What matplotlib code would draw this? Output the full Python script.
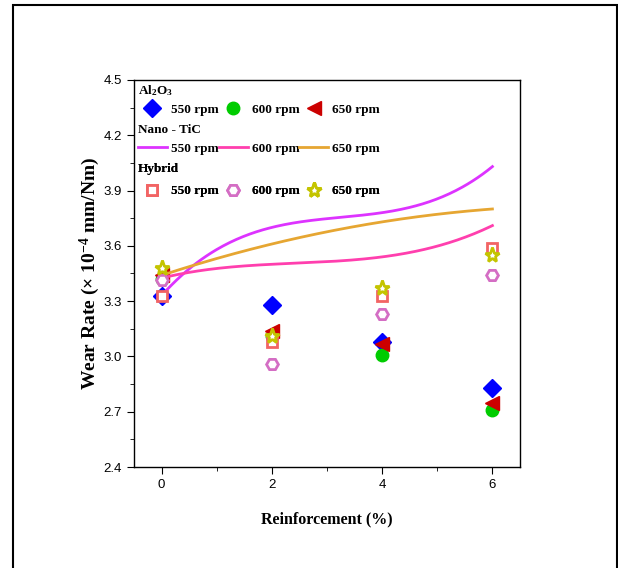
import numpy as np
import matplotlib
matplotlib.use("Agg")
import matplotlib.pyplot as plt
from matplotlib.patches import Rectangle

plt.rcParams["font.family"] = ["Liberation Sans", "DejaVu Sans"]
plt.rcParams["mathtext.fontset"] = "custom"
plt.rcParams["mathtext.rm"] = "Liberation Serif:bold"
plt.rcParams["mathtext.it"] = "Liberation Serif:bold"
plt.rcParams["mathtext.bf"] = "Liberation Serif:bold"

# reinforcement (%)
x = [0, 2, 4, 6]
speeds = ["550 rpm", "600 rpm", "650 rpm"]

# Al2O3 wear rate (x1e-4 mm/Nm)
al_550 = [3.33, 3.28, 3.08, 2.83]
al_600 = [3.42, 3.11, 3.01, 2.71]
al_650 = [3.44, 3.14, 3.07, 2.75]

# Nano-TiC (smoothed lines)
tic_550 = [3.33, 3.70, 3.78, 4.03]
tic_600 = [3.425, 3.50, 3.54, 3.71]
tic_650 = [3.44, 3.61, 3.73, 3.80]

# Hybrid
hy_550 = [3.33, 3.08, 3.33, 3.59]
hy_600 = [3.415, 2.96, 3.23, 3.44]
hy_650 = [3.48, 3.11, 3.37, 3.55]

serif = {"family": "Liberation Serif", "weight": "bold"}

fig = plt.figure(figsize=(6.18, 5.68), dpi=100)
ax = fig.add_axes([0.2168, 0.1778, 0.6246, 0.6814])

# Al2O3 filled markers
h_al = []
for ys, mk, col, ms in ((al_550, "D", "#0000ff", 9),
                        (al_600, "o", "#00cc00", 9),
                        (al_650, "<", "#cc0000", 10)):
    h, = ax.plot(x, ys, ls="none", marker=mk, color=col, ms=ms, zorder=3)
    h_al.append(h)

# Nano-TiC smooth curves (cubic through the 4 points)
xs = np.linspace(0, 6, 200)
h_tic = []
for ys, col in ((tic_550, "#dd33ff"), (tic_600, "#ff3fae"), (tic_650, "#e6a632")):
    c = np.polyfit(x, ys, 3)
    h, = ax.plot(xs, np.polyval(c, xs), color=col, lw=2, zorder=4)
    h_tic.append(h)

# Hybrid open markers
h_hy = []
for ys, mk, col, ms in ((hy_550, "s", "#f26464", 7.5),
                        (hy_600, "H", "#d46ec4", 8.5),
                        (hy_650, "*", "#c4c400", 11)):
    h, = ax.plot(x, ys, ls="none", marker=mk, mfc="white", mec=col, mew=2,
                 ms=ms, zorder=5)
    h_hy.append(h)

ax.set_xlim(-0.5, 6.5)
ax.set_ylim(2.4, 4.5)
ax.set_xticks([0, 2, 4, 6])
ax.set_xticks([1, 3, 5], minor=True)
ax.set_yticks(np.arange(2.4, 4.51, 0.3))
ax.set_yticks(np.arange(2.55, 4.5, 0.3), minor=True)
ax.set_yticklabels([f"{v:.1f}" for v in np.arange(2.4, 4.51, 0.3)])
ax.tick_params(which="major", direction="out", length=5, labelsize=9.5,
               top=False, right=False)
ax.tick_params(which="minor", direction="out", length=3, top=False, right=False)
for s in ax.spines.values():
    s.set_linewidth(1)

ax.set_xlabel("Reinforcement (%)", fontdict=serif, fontsize=11.5, labelpad=15)
ax.set_ylabel(r"Wear Rate (× 10$^{-4}$ mm/Nm)", fontdict=serif, fontsize=14,
              labelpad=1)

# three stacked legends (title, handles, top anchor, title-to-row gap)
groups = [(r"Al$_2$O$_3$", h_al, 1.003, 4.3),
          ("Nano - TiC", h_tic, 0.897, 5.0),
          ("Hybrid", h_hy, 0.795, 7.0)]
for title, hs, ytop, gap in groups:
    leg = ax.legend(hs, speeds, title=title, loc="upper left", ncol=3,
                    bbox_to_anchor=(0.0, ytop), frameon=False,
                    prop={"family": "Liberation Serif", "weight": "bold",
                          "size": 9.5},
                    title_fontproperties={"family": "Liberation Serif",
                                          "weight": "bold", "size": 9.5},
                    alignment="left", handlelength=2.2, handletextpad=0.3,
                    columnspacing=0.0, borderpad=0.1, borderaxespad=0.2)
    leg._legend_box.sep = gap
    ax.add_artist(leg)

# outer frame
fig.add_artist(Rectangle((13 / 618, -0.1), (617 - 13) / 618, 0.1 + 1 - 5 / 568,
                         transform=fig.transFigure, fill=False, lw=1.5,
                         edgecolor="black"))

fig.savefig("out.png", dpi=100)
